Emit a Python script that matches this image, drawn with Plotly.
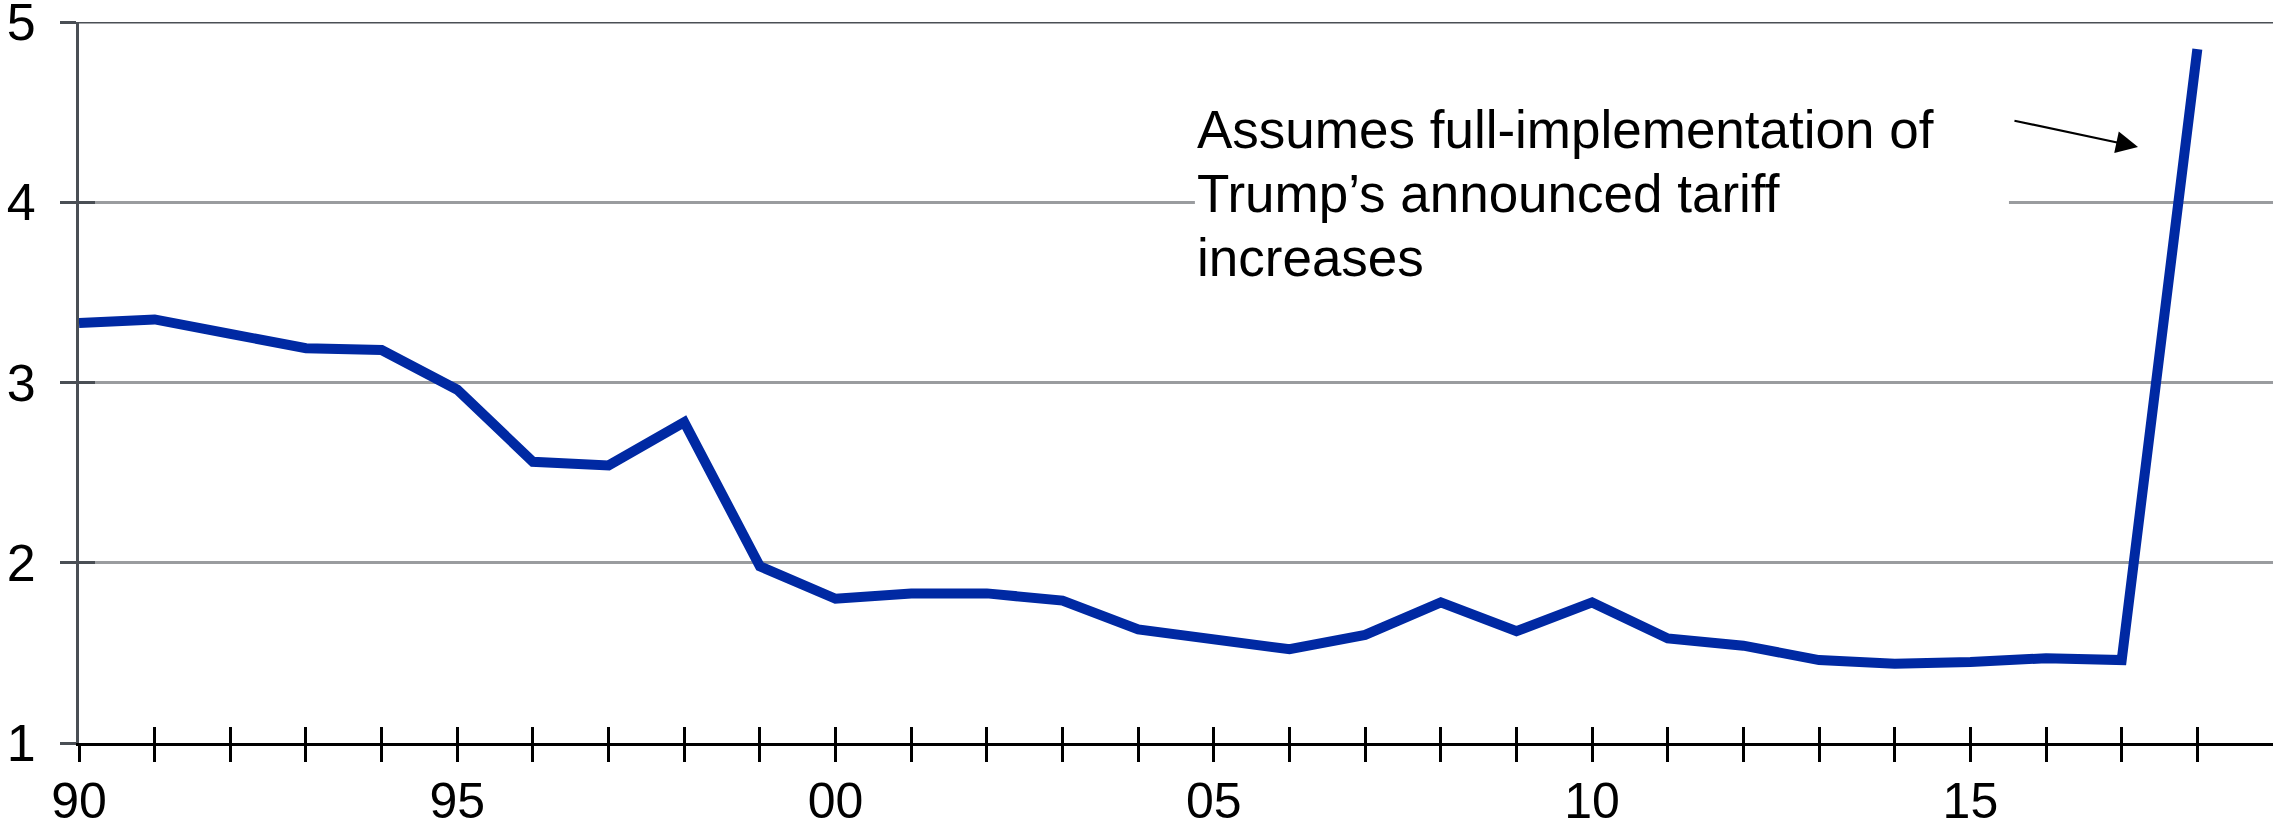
import plotly.graph_objects as go

# ---- data ----
years = list(range(1990, 2019))
tariff_rate = [3.33, 3.35, 3.27, 3.19, 3.18, 2.96, 2.56, 2.54, 2.78, 1.98,
               1.80, 1.83, 1.83, 1.79, 1.63, 1.58, 1.52, 1.60, 1.78, 1.62,
               1.78, 1.58, 1.54, 1.46, 1.44, 1.45, 1.47, 1.46, 4.85]
label_years = [1990, 1995, 2000, 2005, 2010, 2015]
label_text = ["90", "95", "00", "05", "10", "15"]
y_ticks = [1, 2, 3, 4, 5]
note_lines = ["Assumes full-implementation of",
              "Trump\u2019s announced tariff",
              "increases"]

FONT = "Liberation Sans, Arial, sans-serif"
LINE_BLUE = "#0029A3"
DARK = "#4a4f55"
GRID = "#9a9c9f"

fig = go.Figure()
fig.add_trace(go.Scatter(x=years, y=tariff_rate, mode="lines",
                         line=dict(color=LINE_BLUE, width=10),
                         hoverinfo="skip", showlegend=False))
# invisible traces to anchor overlay axes (crossing ticks)
fig.add_trace(go.Scatter(x=[years[0]], y=[y_ticks[0]], xaxis="x2", yaxis="y",
                         mode="markers", marker=dict(opacity=0), showlegend=False, hoverinfo="skip"))
fig.add_trace(go.Scatter(x=[years[0]], y=[y_ticks[0]], xaxis="x", yaxis="y2",
                         mode="markers", marker=dict(opacity=0), showlegend=False, hoverinfo="skip"))

xr = [1990, 2019]
yr = [1, 5]

fig.update_layout(
    width=2273, height=832,
    margin=dict(l=79, r=0, t=22, b=89, autoexpand=False),
    paper_bgcolor="white", plot_bgcolor="white",
    font=dict(family=FONT, size=52, color="black"),
    showlegend=False,
    xaxis=dict(range=xr, tickmode="array", tickvals=label_years, ticktext=label_text,
               ticks="outside", ticklen=16, tickwidth=2.5, tickcolor="black",
               minor=dict(tickmode="array", tickvals=years, ticks="outside", ticklen=16,
                          tickwidth=2.5, tickcolor="black", showgrid=False),
               showgrid=False, zeroline=False, showline=True, linecolor="black",
               linewidth=3, ticklabelstandoff=-4, automargin=False,
               ticklabeloverflow="allow",
               tickfont=dict(family=FONT, size=50, color="black")),
    xaxis2=dict(range=xr, overlaying="x", anchor="y", side="bottom",
                tickmode="array", tickvals=years, ticks="inside", ticklen=16,
                tickwidth=2.5, tickcolor="black", showticklabels=False,
                showgrid=False, zeroline=False, showline=False, automargin=False),
    yaxis=dict(range=yr, tickmode="array", tickvals=y_ticks,
               ticks="outside", ticklen=16, tickwidth=3, tickcolor=DARK,
               showgrid=True, gridcolor=GRID, gridwidth=2.5,
               zeroline=False, showline=True, linecolor=DARK, linewidth=3,
               ticklabelstandoff=14, automargin=False,
               ticklabeloverflow="allow",
               tickfont=dict(family=FONT, size=52, color="black")),
    yaxis2=dict(range=yr, overlaying="y", anchor="x", side="left",
                tickmode="array", tickvals=y_ticks, ticks="inside", ticklen=16,
                tickwidth=3, tickcolor=DARK, showticklabels=False,
                showgrid=False, zeroline=False, showline=False, automargin=False),
)

# dark top rule at y = 5
fig.add_shape(type="line", xref="paper", x0=0, x1=1, yref="y", y0=yr[1], y1=yr[1],
              line=dict(color=DARK, width=3), layer="between")

# white box behind the note (hides gridline)
fig.add_shape(type="rect", xref="x", yref="y", x0=2004.75, x1=2015.51, y0=3.52, y1=4.56,
              fillcolor="white", line=dict(width=0), layer="between")

note_y = [4.403, 4.048, 3.693]
for txt, yy in zip(note_lines, note_y):
    fig.add_annotation(x=2004.75, y=yy, xref="x", yref="y", text=txt,
                       showarrow=False, xanchor="left", yanchor="middle",
                       font=dict(family=FONT, size=53, color="black"))

fig.add_annotation(x=2017.216, y=4.307, xref="x", yref="y",
                   ax=2015.563, ay=4.454, axref="x", ayref="y", text="",
                   showarrow=True, arrowhead=2, arrowsize=2, arrowwidth=2.2,
                   arrowcolor="black", standoff=0)

fig.write_html("out.html")
